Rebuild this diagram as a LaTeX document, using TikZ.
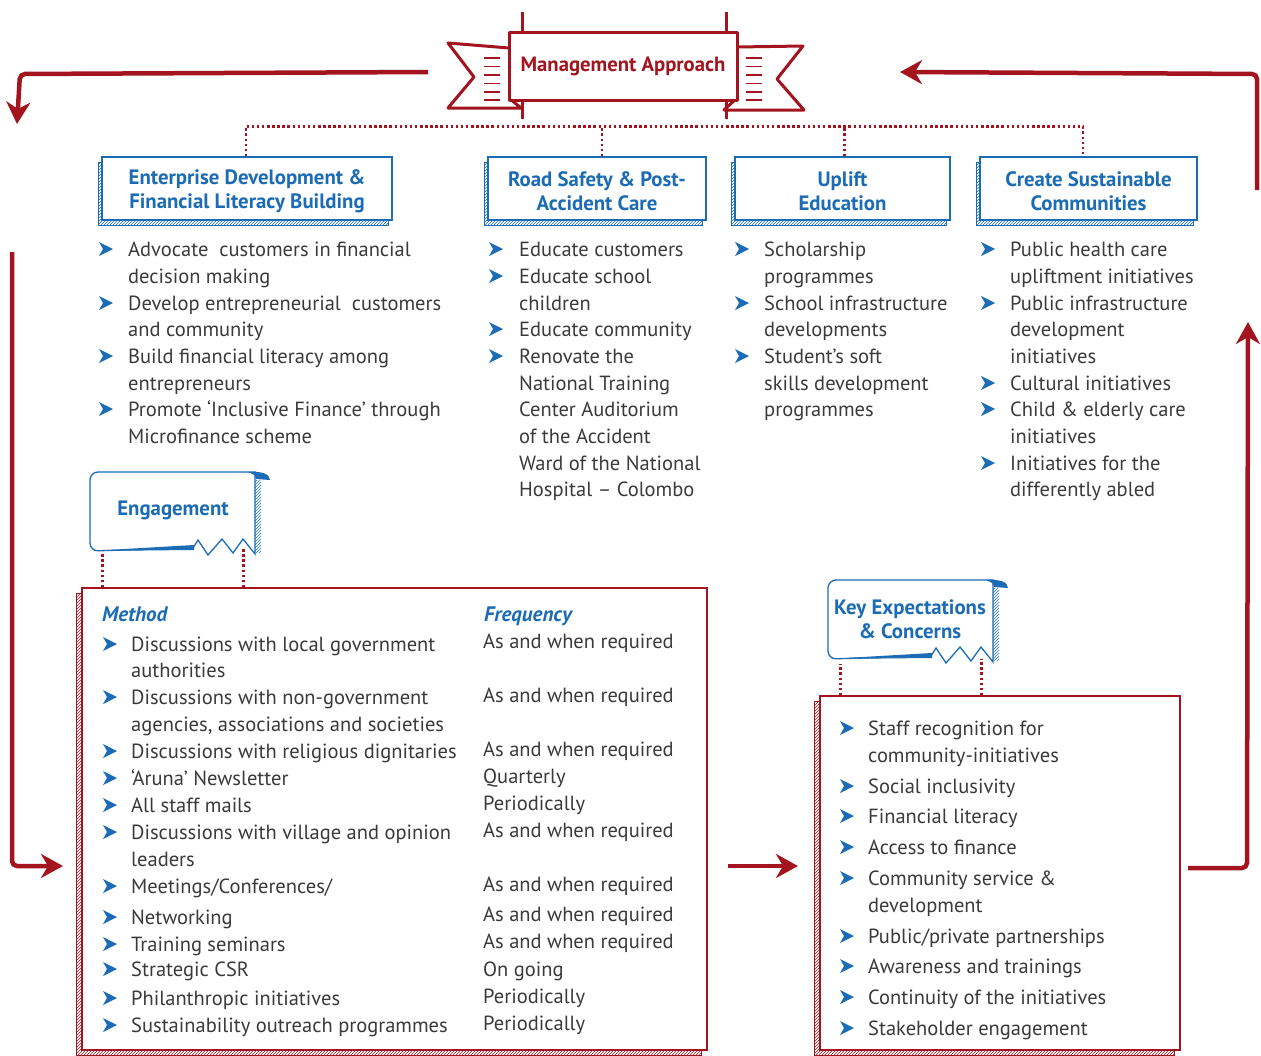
\documentclass[tikz,border=0pt]{standalone}
\usepackage{fontspec}
\setmainfont{PT Sans}
\usetikzlibrary{arrows.meta,patterns}

\definecolor{mgmtred}{HTML}{A3141E}
\definecolor{csrblue}{HTML}{1B6CB5}
\definecolor{bodytext}{HTML}{3A3A3A}

\tikzset{
  item/.style={anchor=base west, inner sep=0pt, text=bodytext, font=\fontsize{20.5}{24}\selectfont},
  colhead/.style={anchor=base west, inner sep=0pt, text=csrblue, font=\fontsize{21}{24}\selectfont\bfseries\itshape},
  head/.style={align=center, inner sep=0pt, text=csrblue, font=\fontsize{20.8}{24}\selectfont\bfseries},
  headbox/.style={draw=csrblue, line width=1.3pt, fill=white,
    preaction={draw=csrblue, line width=0.8pt, pattern=north east lines, pattern color=csrblue,
      transform canvas={shift={(-4,5)}}}},
  redbox/.style={draw=mgmtred, line width=1.3pt, fill=white,
    preaction={draw=mgmtred, line width=0.8pt, pattern=north east lines, pattern color=mgmtred,
      transform canvas={shift={(-6,5)}}}},
  banner/.style={draw=mgmtred, line width=3pt, fill=white, line join=round},
  bigarrow/.style={mgmtred, line width=4.5pt, rounded corners=5pt,
    -{Stealth[length=22pt,width=24pt,inset=7pt]}},
  dots/.style={mgmtred, line width=2.5pt, dash pattern=on 2.5pt off 2.6pt},
  bullet/.pic={\fill[csrblue] (-7,-7) -- (7,0) -- (-7,7) -- (-3,0) -- cycle;}
}

% curled note with a torn corner, origin at its top left
\newcommand{\notetag}{%
  \fill[white] (0,0) -- (166,0) -- (165,82) -- (0,79) -- cycle;
  \fill[pattern=north east lines, pattern color=csrblue] (165,8) rectangle (171,80);
  \draw[csrblue, line width=1.3pt, rounded corners=8pt] (104,76) -- (0,79) -- (0,0) -- (166,0);
  \draw[csrblue, line width=1.3pt] (165,3) -- (165,82) -- (153,67) -- (143,81) -- (132,67)
    -- (118,83) -- (108,68) -- (103,76);
  \fill[csrblue] (0,79) -- (104,73) -- (104,78) -- cycle;
  \fill[csrblue] (158,0) .. controls (172,-1) and (180,2) .. (180,8) -- (166,7)
    .. controls (165,3) .. (158,0) -- cycle;
}

\begin{document}
\begin{tikzpicture}[x=1pt, y=-1pt]
  \useasboundingbox (0,0) rectangle (1261,1055);

  % Banner
  \filldraw[banner] (509,48) -- (448,43) -- (474,77) -- (448,108) -- (521,108) -- (509,98);
  \filldraw[banner] (737,47) -- (803,46) -- (777,79) -- (804,110) -- (724,110) -- (737,98);
  \draw[banner] (522,12) -- (522,119);
  \draw[banner] (726,12) -- (726,119);
  \node[banner, minimum width=228pt, minimum height=68pt, inner sep=0pt, text=mgmtred,
    font=\fontsize{20.7}{24}\selectfont\bfseries] (mgmt) at (623,66) {Management Approach};
  \foreach \y in {58,66.5,75,83.5,92,100} {
    \draw[mgmtred, line width=1.3pt] (484,\y) -- (500,\y);
    \draw[mgmtred, line width=1.3pt] (746,\y) -- (762,\y);
  }

  % Cycle arrows
  \coordinate (a1) at (428,72);
  \coordinate (a2) at (17,124);
  \draw[bigarrow] (a1) -- (20,74) -- (a2);
  \coordinate (b1) at (1257,190);
  \coordinate (b2) at (900,72);
  \draw[bigarrow] (b1) -- (1257,74) -- (b2);
  \coordinate (c1) at (12,252);
  \coordinate (c2) at (63,866);
  \draw[bigarrow] (c1) -- (12,866) -- (c2);
  \coordinate (d1) at (728,866);
  \coordinate (d2) at (798,866);
  \draw[bigarrow] (d1) -- (d2);
  \coordinate (e1) at (1188,868);
  \coordinate (e2) at (1248,322);
  \draw[bigarrow] (e1) -- (1247,868) -- (e2);

  % Focus areas
  \node[headbox, minimum width=290pt, minimum height=63pt] (ed) at (247,188.5) {};
  \node[headbox, minimum width=218pt, minimum height=63pt] (rs) at (597,188.5) {};
  \node[headbox, minimum width=215pt, minimum height=63pt] (ue) at (842.5,188.5) {};
  \node[headbox, minimum width=217pt, minimum height=63pt] (cs) at (1088.5,188.5) {};
  \node[head] (ed-t) at ([yshift=-2.5pt]ed) {Enterprise Development \&\\Financial Literacy Building};
  \node[head] (rs-t) at ([yshift=-2.5pt]rs) {Road Safety \& Post-\\Accident Care};
  \node[head] (ue-t) at ([yshift=-2.5pt]ue) {Uplift\\Education};
  \node[head] (cs-t) at ([yshift=-2.5pt]cs) {Create Sustainable\\Communities};

  \draw[dots] (ed.north) ++(-1,0) -- ++(0,-30) -| ([xshift=-5.5pt]cs.north);
  \draw[dots] (rs.north) ++(5,0) -- ++(0,-30);
  \draw[dots] (ue.north) ++(2,0) -- ++(0,-30);

  % Enterprise development
  \foreach \y/\t [count=\i] in {256/{Advocate\ \ customers in financial}, 283/{decision making},
      310/{Develop entrepreneurial\ \ customers}, 336/{and community},
      363/{Build financial literacy among}, 390/{entrepreneurs},
      416/{Promote ‘Inclusive Finance’ through}, 443/{Microfinance scheme}}
    \node[item] (ed-\i) at (128,\y) {\t};
  \foreach \y in {256,310,363,416} \pic at (106,\y-7) {bullet};

  % Road safety
  \foreach \y/\t [count=\i] in {256/{Educate customers}, 283/{Educate school}, 310/{children},
      336/{Educate community}, 363/{Renovate the}, 390/{National Training},
      416/{Center Auditorium}, 443/{of the Accident}, 470/{Ward of the National},
      496/{Hospital – Colombo}}
    \node[item] (rs-\i) at (519,\y) {\t};
  \foreach \y in {256,283,336,363} \pic at (496,\y-7) {bullet};

  % Education
  \foreach \y/\t [count=\i] in {256/{Scholarship}, 283/{programmes},
      310/{School infrastructure}, 336/{developments}, 363/{Student’s soft},
      390/{skills development}, 416/{programmes}}
    \node[item] (ue-\i) at (764,\y) {\t};
  \foreach \y in {256,310,363} \pic at (742,\y-7) {bullet};

  % Communities
  \foreach \y/\t [count=\i] in {256/{Public health care}, 283/{upliftment initiatives},
      310/{Public infrastructure}, 336/{development}, 363/{initiatives},
      390/{Cultural initiatives}, 416/{Child \& elderly care}, 443/{initiatives},
      470/{Initiatives for the}, 496/{differently abled}}
    \node[item] (cs-\i) at (1010,\y) {\t};
  \foreach \y in {256,310,390,416,470} \pic at (988,\y-7) {bullet};

  % Engagement
  \begin{scope}[shift={(90,472)}]
    \notetag
  \end{scope}
  \node[head] (engtag) at (173,510) {Engagement};
  \node[redbox, minimum width=625pt, minimum height=462pt] (engbox) at (394.5,819) {};
  \draw[dots] (engbox.north west) ++(21,0) -- ++(0,-35);
  \draw[dots] (engbox.north west) ++(162,0) -- ++(0,-40);

  \node[colhead] (method) at (102,621) {Method};
  \node[colhead] (freq) at (484,621) {Frequency};
  \foreach \y/\t [count=\i] in {651/{Discussions with local government}, 677/{authorities},
      704/{Discussions with non-government}, 731/{agencies, associations and societies},
      758/{Discussions with religious dignitaries}, 785/{‘Aruna’ Newsletter},
      812/{All staff mails}, 839/{Discussions with village and opinion}, 866/{leaders},
      893/{Meetings/Conferences/}, 924/{Networking}, 951/{Training seminars},
      976/{Strategic CSR}, 1005/{Philanthropic initiatives},
      1032/{Sustainability outreach programmes}}
    \node[item] (m-\i) at (131,\y) {\t};
  \foreach \y in {651,704,758,785,812,839,893,924,951,976,1005,1032} \pic at (110,\y-7) {bullet};
  \foreach \y/\t [count=\i] in {648/{As and when required}, 702/{As and when required},
      756/{As and when required}, 783/{Quarterly}, 810/{Periodically},
      837/{As and when required}, 891/{As and when required}, 921/{As and when required},
      948/{As and when required}, 976/{On going}, 1003/{Periodically}, 1030/{Periodically}}
    \node[item] (f-\i) at (483,\y) {\t};

  % Key expectations
  \begin{scope}[shift={(828,580)}]
    \notetag
  \end{scope}
  \node[head] (keytag) at (910,619) {Key Expectations\\\& Concerns};
  \node[redbox, minimum width=360pt, minimum height=354pt] (keybox) at (1000,873) {};
  \draw[dots] (keybox.north west) ++(21,0) -- ++(0,-31);
  \draw[dots] (keybox.north west) ++(162,0) -- ++(0,-36);

  \foreach \y/\t [count=\i] in {735/{Staff recognition for}, 762/{community-initiatives},
      793/{Social inclusivity}, 823/{Financial literacy}, 854/{Access to finance},
      885/{Community service \&}, 912/{development}, 943/{Public/private partnerships},
      973/{Awareness and trainings}, 1004/{Continuity of the initiatives},
      1035/{Stakeholder engagement}}
    \node[item] (k-\i) at (868,\y) {\t};
  \foreach \y in {735,793,823,854,885,943,973,1004,1035} \pic at (847,\y-7) {bullet};
\end{tikzpicture}
\end{document}
